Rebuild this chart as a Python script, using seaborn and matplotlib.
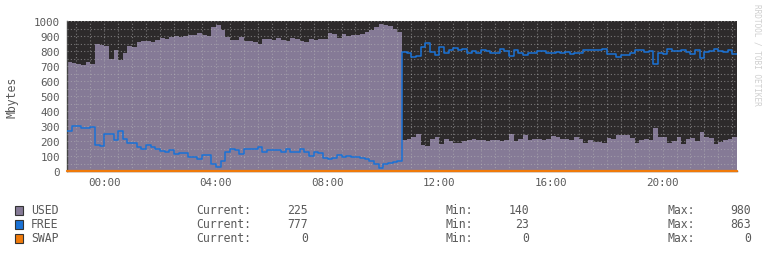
import numpy as np
import pandas as pd
import matplotlib
matplotlib.use("Agg")
import matplotlib.pyplot as plt
import seaborn as sns
from matplotlib.patches import Rectangle
from matplotlib.ticker import MultipleLocator, FixedLocator

# ---------------- data (10-minute samples, first sample at 22:40 of previous day) ----------------
used = [725, 720, 712, 705, 728, 715, 845, 842, 835, 750, 810, 740, 785, 832, 830, 860, 870, 865, 858, 875,
        885, 880, 893, 900, 895,
        898, 904, 905, 918, 904, 900, 960, 975, 940, 893, 872, 875, 893, 868, 870, 862, 850, 878, 882, 872,
        885, 875, 868, 890,
        880, 867, 858, 880, 873, 880, 880, 920, 915, 890, 915, 900, 910, 904, 915, 927, 938, 958, 980, 972,
        965, 945, 930,
        210, 215, 230, 245, 175, 170, 215, 230, 180, 215, 200, 185, 190, 200, 205, 215, 210, 205, 200, 204,
        210, 200, 210, 245, 200,
        215, 240, 207, 215, 215, 205, 215, 235, 225, 215, 215, 210, 228, 212, 190, 204, 195, 195, 187, 220,
        212, 240, 238, 238,
        220, 185, 205, 215, 207, 290, 230, 227, 185, 200, 225, 180, 215, 222, 200, 260, 225, 220, 182, 195,
        205, 212, 225]

free = [270, 298, 300, 285, 290, 295, 175, 165, 250, 245, 210, 270, 215, 190, 185, 160, 150, 175, 160, 145,
        135, 130, 140, 112, 120,
        120, 95, 95, 80, 110, 105, 50, 30, 67, 127, 145, 140, 115, 145, 150, 150, 160, 130, 140, 138,
        140, 125, 145, 125,
        128, 145, 125, 100, 127, 120, 90, 80, 85, 110, 95, 100, 95, 93, 90, 80, 70, 45, 23, 48,
        52, 58, 65,
        795, 790, 760, 770, 825, 855, 795, 775, 830, 790, 805, 818, 808, 815, 787, 800, 790, 805, 800, 787,
        787, 815, 800, 765, 805,
        787, 775, 790, 785, 800, 798, 785, 790, 795, 790, 795, 780, 785, 790, 805, 809, 810, 805, 815, 782,
        780, 758, 771, 775,
        785, 805, 809, 795, 798, 712, 790, 782, 815, 800, 800, 810, 793, 780, 805, 755, 793, 800, 815, 800,
        795, 804, 777]

swap = [0] * len(used)

start_hour = -80 / 60.0      # 22:40 of the previous day, in hours relative to 00:00
step_minutes = 10

hour_ticks = [0, 4, 8, 12, 16, 20]
hour_labels = ["00:00", "04:00", "08:00", "12:00", "16:00", "20:00"]

legend_names = ["USED", "FREE", "SWAP"]
legend_current = [225, 777, 0]
legend_min = [140, 23, 0]
legend_max = [980, 863, 0]

# ---------------- style ----------------
C_USED = "#857a96"
C_FREE = "#1a72d6"
C_SWAP = "#f07a0a"
C_BG = "#2d2a2b"
C_TXT = "#5a5a5a"

sns.set_style("white")
plt.rcParams["font.family"] = ["DejaVu Sans Mono", "DejaVu Sans"]

W, H = 767, 255
fig = plt.figure(figsize=(W / 100, H / 100), dpi=100)
L, R, T, B = 67, 737, 22, 172
ax = fig.add_axes([L / W, 1 - B / H, (R - L) / W, (B - T) / H])
ax.set_facecolor(C_BG)

n = len(used)
edges = start_hour + np.arange(n + 1) * step_minutes / 60.0
centers = edges[:-1] + step_minutes / 120.0

df = pd.DataFrame({"t": centers, "used": used, "free": free, "swap": swap})
line_df = pd.DataFrame({"t": edges,
                        "free": list(free) + [free[-1]],
                        "swap": list(swap) + [swap[-1]]})

# USED as a filled step area
sns.histplot(data=df, x="t", weights="used", bins=list(edges), element="step", fill=True,
             color=C_USED, alpha=1.0, linewidth=0, ax=ax, zorder=1)

# FREE as a step line
sns.lineplot(data=line_df, x="t", y="free", drawstyle="steps-post",
             color=C_FREE, linewidth=1.1, ax=ax, zorder=4)

# SWAP line
sns.lineplot(data=line_df, x="t", y="swap", drawstyle="steps-post",
             color=C_SWAP, linewidth=1.6, ax=ax, zorder=5, clip_on=False)

ax.set_xlim(edges[0], edges[-1])
ax.set_ylim(0, 1000)
ax.set_xlabel("")
ax.set_ylabel("")

# ticks & grid
ax.xaxis.set_major_locator(FixedLocator(hour_ticks))
ax.set_xticklabels(hour_labels)
ax.xaxis.set_minor_locator(MultipleLocator(0.5))
ax.yaxis.set_major_locator(MultipleLocator(100))
ax.yaxis.set_minor_locator(MultipleLocator(50))
ax.set_yticks(np.arange(0, 1001, 100))
ax.set_yticklabels([f"{int(v)}" for v in np.arange(0, 1001, 100)])

ax.set_axisbelow(False)
ax.grid(True, which="both", color="#b8b8b8", alpha=0.55, linestyle=(0, (1, 2)), linewidth=0.8)

ax.tick_params(axis="both", which="major", labelsize=7.8, labelcolor=C_TXT, colors="#555555",
               length=3, width=0.8, direction="out", pad=2)
ax.tick_params(axis="x", which="major", length=0, pad=4)
ax.tick_params(axis="both", which="minor", length=2, width=0.7, colors="#555555", direction="out")

for s in ["top", "right"]:
    ax.spines[s].set_visible(False)
ax.spines["left"].set_color("#444444")
ax.spines["left"].set_linewidth(1.0)
ax.spines["bottom"].set_color("#444444")
ax.spines["bottom"].set_linewidth(1.0)

# y label
fig.text(12 / W, 1 - 97 / H, "Mbytes", rotation=90, ha="center", va="center",
         fontsize=8.3, color=C_TXT)

# watermark
fig.text(757 / W, 1 - 4 / H, "RRDTOOL / TOBI OETIKER", rotation=270, ha="center", va="top",
         fontsize=5.6, color="#cfcfcf")

# legend block
colors = [C_USED, C_FREE, C_SWAP]
row_y = [211, 225, 239]
for name, cur, mn, mx, col, y in zip(legend_names, legend_current, legend_min, legend_max, colors, row_y):
    fy = 1 - y / H
    fig.patches.append(Rectangle((15 / W, 1 - (y + 4.5) / H), 8 / W, 9 / H,
                                 transform=fig.transFigure, facecolor=col,
                                 edgecolor="#333333", linewidth=0.8))
    fig.text(31 / W, fy, name, ha="left", va="center", fontsize=8.3, color=C_TXT)
    fig.text(196 / W, fy, "Current:", ha="left", va="center", fontsize=8.3, color=C_TXT)
    fig.text(308 / W, fy, f"{cur}", ha="right", va="center", fontsize=8.3, color=C_TXT)
    fig.text(445 / W, fy, "Min:", ha="left", va="center", fontsize=8.3, color=C_TXT)
    fig.text(529 / W, fy, f"{mn}", ha="right", va="center", fontsize=8.3, color=C_TXT)
    fig.text(667 / W, fy, "Max:", ha="left", va="center", fontsize=8.3, color=C_TXT)
    fig.text(751 / W, fy, f"{mx}", ha="right", va="center", fontsize=8.3, color=C_TXT)

fig.savefig("out.png", dpi=100, facecolor="white")
